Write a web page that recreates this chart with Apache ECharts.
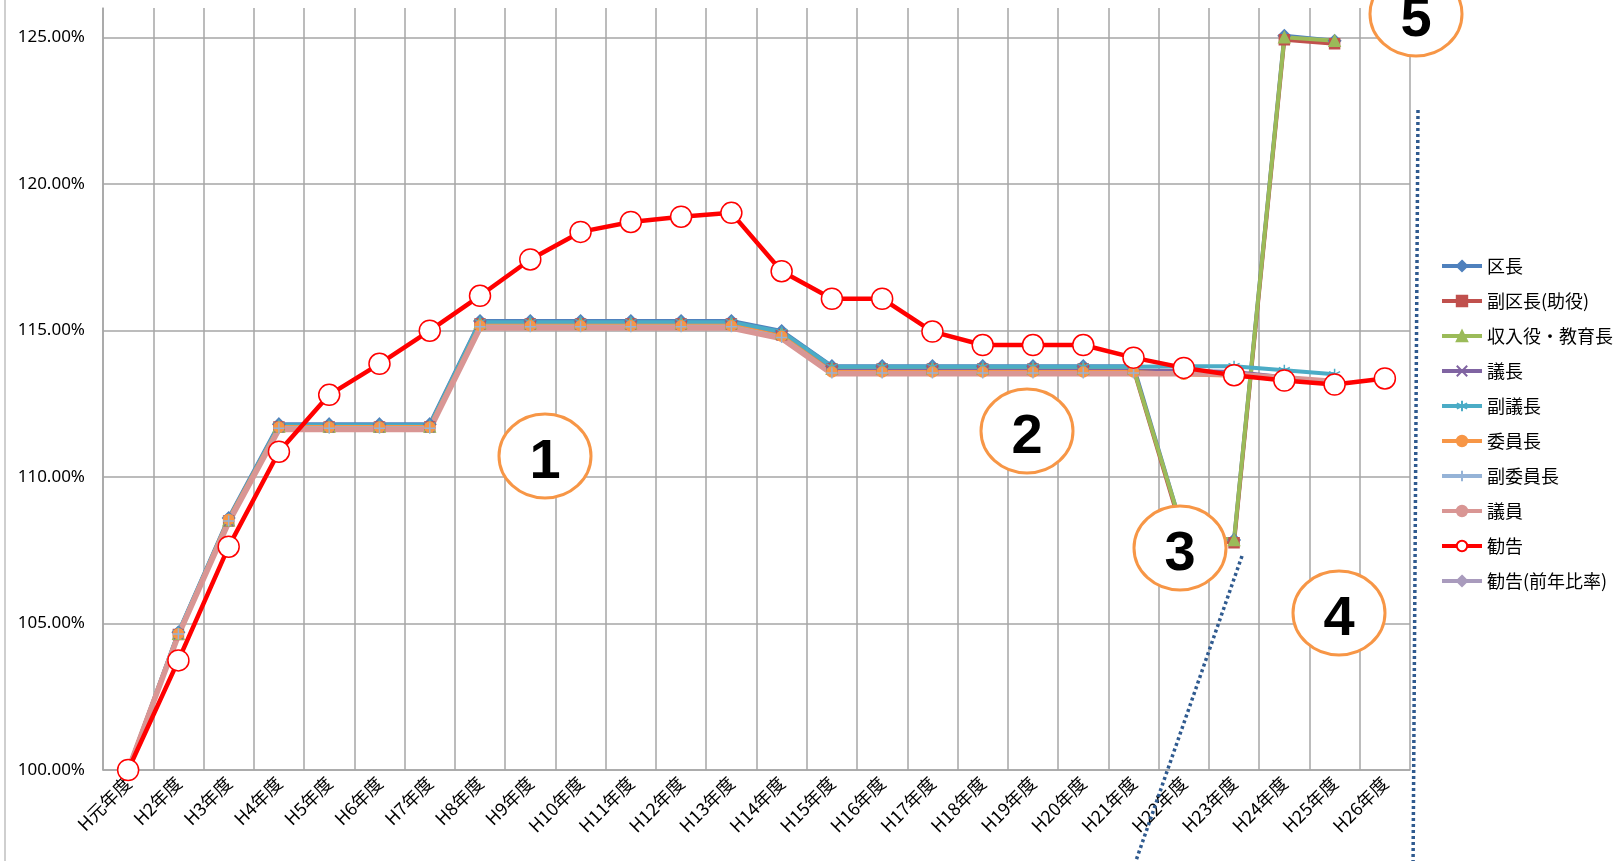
<!DOCTYPE html>
<html>
<head>
<meta charset="utf-8">
<script src="https://cdn.jsdelivr.net/npm/echarts@6.0.0/dist/echarts.min.js"></script>
<style>
    html, body { margin: 0; padding: 0; background: #fff; }
    #chart { width: 1620px; height: 861px; }
</style>
</head>
<body>
<div id="chart"></div>
<script>
(function () {
    'use strict';

    var years = ['H元年度', 'H2年度', 'H3年度', 'H4年度', 'H5年度', 'H6年度', 'H7年度', 'H8年度', 'H9年度',
        'H10年度', 'H11年度', 'H12年度', 'H13年度', 'H14年度', 'H15年度', 'H16年度', 'H17年度', 'H18年度',
        'H19年度', 'H20年度', 'H21年度', 'H22年度', 'H23年度', 'H24年度', 'H25年度', 'H26年度'];

    var kucho = [100.00, 104.70, 108.60, 111.80, 111.80, 111.80, 111.80, 115.32, 115.32, 115.32, 115.32, 115.32, 115.32,
        114.98, 113.78, 113.78, 113.78, 113.78, 113.78, 113.78, 113.78, 108.05, 107.85, 125.05, 124.88, null];
    var fukuKucho = [100.00, 104.62, 108.50, 111.70, 111.70, 111.70, 111.70, 115.22, 115.22, 115.22, 115.22, 115.22, 115.22,
        114.85, 113.68, 113.68, 113.68, 113.68, 113.68, 113.68, 113.68, 107.95, 107.75, 124.92, 124.78, null];
    var shunyuyaku = [100.00, 104.65, 108.52, 111.72, 111.72, 111.72, 111.72, 115.25, 115.25, 115.25, 115.25, 115.25, 115.25,
        114.90, 113.70, 113.70, 113.70, 113.70, 113.70, 113.70, 113.70, 108.05, 107.85, 125.00, 124.88, null];
    var gicho = [100.00, 104.62, 108.48, 111.68, 111.68, 111.68, 111.68, 115.18, 115.18, 115.18, 115.18, 115.18, 115.18,
        114.82, 113.62, 113.62, 113.62, 113.62, 113.62, 113.62, 113.62, 113.62, 113.58, 113.40, 113.22, null];
    var fukuGicho = [100.00, 104.68, 108.56, 111.76, 111.76, 111.76, 111.76, 115.28, 115.28, 115.28, 115.28, 115.28, 115.28,
        114.95, 113.76, 113.76, 113.76, 113.76, 113.76, 113.76, 113.76, 113.78, 113.78, 113.64, 113.50, null];
    var iincho = [100.00, 104.65, 108.55, 111.70, 111.70, 111.70, 111.70, 115.16, 115.16, 115.16, 115.16, 115.16, 115.16,
        114.80, 113.58, 113.58, 113.58, 113.58, 113.58, 113.58, 113.58, 113.50, 113.45, 113.32, 113.18, null];
    var fukuIincho = [100.00, 104.64, 108.50, 111.66, 111.66, 111.66, 111.66, 115.12, 115.12, 115.12, 115.12, 115.12, 115.12,
        114.76, 113.55, 113.55, 113.55, 113.55, 113.55, 113.55, 113.55, 113.55, 113.52, 113.36, 113.22, null];
    var giin = [100.00, 104.60, 108.45, 111.62, 111.62, 111.62, 111.62, 115.08, 115.08, 115.08, 115.08, 115.08, 115.08,
        114.72, 113.52, 113.52, 113.52, 113.52, 113.52, 113.52, 113.52, 113.52, 113.50, 113.38, 113.26, null];
    var kankoku = [100.00, 103.74, 107.62, 110.86, 112.80, 113.86, 114.99, 116.18, 117.42, 118.36, 118.70, 118.88, 119.01,
        117.02, 116.08, 116.08, 114.96, 114.50, 114.50, 114.50, 114.07, 113.72, 113.47, 113.29, 113.15, 113.36];
    var kankokuRatio = [null, null, null, null, null, null, null, null, null, null, null, null, null,
        null, null, null, null, null, null, null, null, null, null, null, null, null];

    var yTicks = { min: 100, max: 126, step: 5 };

    var CROSS = 'path://M0,0L10,10M10,0L0,10';
    var STAR = 'path://M5,0L5,10M0,2.5L10,7.5M0,7.5L10,2.5';
    var PLUS = 'path://M5,0L5,10M0,5L10,5';

    var cjk = '"Noto Sans CJK JP", "Noto Sans", sans-serif';

    function lineSeries(name, data, color, symbol, symbolSize, width) {
        return {
            name: name,
            type: 'line',
            data: data,
            symbol: symbol,
            symbolSize: symbolSize,
            showSymbol: symbol !== 'none',
            connectNulls: false,
            lineStyle: { color: color, width: width || 4 },
            itemStyle: { color: color, borderColor: color, borderWidth: 1.5 },
            emphasis: { disabled: true },
            animation: false
        };
    }

    var series = [
        lineSeries('区長', kucho, '#4F81BD', 'diamond', 12),
        lineSeries('副区長(助役)', fukuKucho, '#C0504D', 'rect', 10),
        lineSeries('収入役・教育長', shunyuyaku, '#9BBB59', 'triangle', 11),
        lineSeries('議長', gicho, '#8064A2', CROSS, 9),
        lineSeries('副議長', fukuGicho, '#4BACC6', STAR, 11),
        lineSeries('委員長', iincho, '#F79646', 'circle', 10),
        lineSeries('副委員長', fukuIincho, '#95B3D7', PLUS, 11),
        lineSeries('議員', giin, '#D99694', 'none', 0, 5.5),
        {
            name: '勧告',
            type: 'line',
            data: kankoku,
            symbol: 'circle',
            symbolSize: 21,
            lineStyle: { color: '#FF0000', width: 4.5 },
            itemStyle: { color: '#FFFFFF', borderColor: '#FF0000', borderWidth: 1.5 },
            emphasis: { disabled: true },
            animation: false
        },
        lineSeries('勧告(前年比率)', kankokuRatio, '#A99BBD', 'diamond', 12)
    ];

    // orange numbered ellipses and the blue dotted strokes drawn over the chart
    function marker(label, cx, cy) {
        return {
            type: 'group',
            children: [{
                type: 'ellipse',
                z: 100,
                shape: { cx: cx, cy: cy, rx: 46, ry: 42 },
                style: { fill: '#FFFFFF', stroke: '#F79646', lineWidth: 3 }
            }, {
                type: 'text',
                z: 101,
                x: cx,
                y: cy + 7,
                style: {
                    text: label,
                    fill: '#000000',
                    font: 'bold 56px "Liberation Sans", Arial, sans-serif',
                    align: 'center',
                    verticalAlign: 'middle'
                }
            }]
        };
    }

    function dotted(x1, y1, x2, y2) {
        return {
            type: 'line',
            z: 99,
            shape: { x1: x1, y1: y1, x2: x2, y2: y2 },
            style: { stroke: '#2F5A8F', lineWidth: 3.5, lineDash: [3, 3] }
        };
    }

    var chart = echarts.init(document.getElementById('chart'), null, { renderer: 'canvas' });

    chart.setOption({
        backgroundColor: '#FFFFFF',
        animation: false,
        grid: {
            left: 103,
            right: 210,
            top: 8,
            bottom: 91,
            containLabel: false,
            outerBoundsMode: 'none'
        },
        legend: {
            orient: 'vertical',
            left: 1435,
            top: 250,
            itemWidth: 40,
            itemHeight: 13,
            itemGap: 13,
            selectedMode: false,
            data: series.map(function (s) { return s.name; }),
            lineStyle: { width: 4 },
            textStyle: { fontFamily: cjk, fontSize: 18, color: '#000000', lineHeight: 22 }
        },
        xAxis: {
            type: 'category',
            data: years,
            boundaryGap: true,
            axisLine: { lineStyle: { color: '#A6A6A6', width: 1.5 } },
            axisTick: { show: false },
            splitLine: { show: true, lineStyle: { color: '#A6A6A6', width: 1.5 } },
            axisLabel: {
                rotate: 45,
                margin: 10,
                interval: 0,
                fontFamily: cjk,
                fontSize: 18,
                color: '#000000'
            }
        },
        yAxis: {
            type: 'value',
            min: yTicks.min,
            max: yTicks.max,
            interval: yTicks.step,
            axisLine: { show: true, lineStyle: { color: '#A6A6A6', width: 1.5 } },
            axisTick: { show: false },
            splitLine: { show: true, showMaxLine: false, lineStyle: { color: '#A6A6A6', width: 1.5 } },
            axisLabel: {
                showMaxLabel: false,
                margin: 18,
                fontFamily: '"Noto Sans", sans-serif',
                fontSize: 17,
                color: '#000000',
                formatter: function (v) { return v.toFixed(2) + '%'; }
            }
        },
        series: series,
        graphic: [
            {
                type: 'line',
                z: 50,
                shape: { x1: 5, y1: 0, x2: 5, y2: 861 },
                style: { stroke: '#BFBFBF', lineWidth: 1.5 }
            },
            dotted(1242, 556, 1131, 875),
            dotted(1418, 110, 1413, 875),
            marker('1', 545, 456),
            marker('2', 1027, 431),
            marker('3', 1180, 548),
            marker('4', 1339, 613),
            marker('5', 1416, 14)
        ]
    });
})();
</script>
</body>
</html>
